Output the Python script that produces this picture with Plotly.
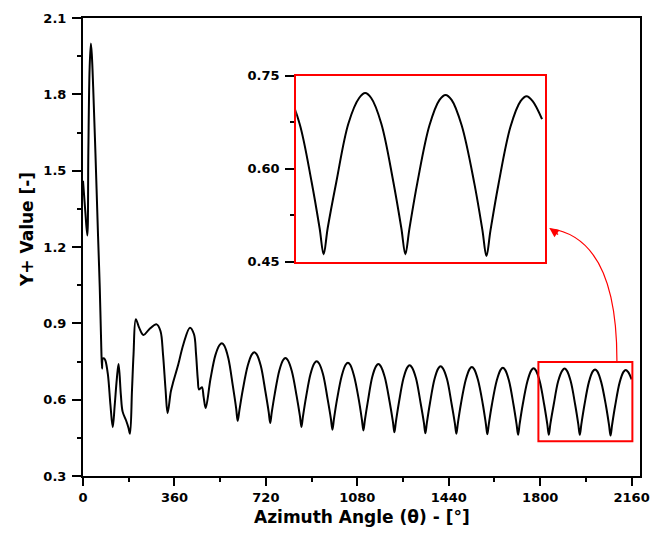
import plotly.graph_objects as go

# ---------------- data ----------------
angle_deg = [
    0, 9, 17, 21, 26, 31, 35, 40, 49, 59, 66, 72, 75, 78, 83, 88, 98, 108,
    117, 125, 133, 140, 149, 156, 169, 179, 185, 193, 199, 208, 221, 238, 260,
    290, 305, 315, 325, 333, 346, 356, 375, 395, 421, 437, 445, 452, 457, 468,
    475, 483, 502, 521, 537, 547,
    556, 572, 590, 603, 609, 616, 629, 649, 665, 675, 684, 700, 718, 731, 737,
    743, 755, 773, 788, 797, 806, 822, 841, 854, 860, 866, 878, 896, 911, 920,
    929, 945, 963, 976, 982, 988, 1000, 1019, 1034, 1043, 1052, 1067, 1086,
    1098, 1104, 1110, 1122, 1139, 1154, 1163, 1172, 1188, 1207, 1220, 1226,
    1232, 1244, 1262, 1277, 1286, 1295, 1311, 1329, 1342, 1348, 1354, 1366,
    1384, 1399, 1408, 1417, 1433, 1451, 1464, 1470, 1476, 1488, 1507, 1522,
    1531, 1540, 1555, 1574, 1586, 1592, 1598, 1610, 1629, 1644, 1653, 1662,
    1677, 1695, 1707, 1713, 1719, 1731, 1750, 1765, 1774, 1783, 1798, 1816,
    1828, 1834, 1840, 1853, 1871, 1887, 1896, 1905, 1920, 1938, 1950, 1956,
    1962, 1974, 1992, 2007, 2016, 2025, 2040, 2059, 2071, 2077, 2083, 2095,
    2113, 2128, 2137, 2146, 2160,
]
yplus = [
    1.46, 1.34, 1.245, 1.57, 1.90, 2.00, 1.95, 1.83, 1.567, 1.25, 1.04, 0.804,
    0.722, 0.762, 0.762, 0.754, 0.699, 0.58, 0.492, 0.58, 0.68, 0.74, 0.62,
    0.553, 0.52, 0.49, 0.466, 0.64, 0.778, 0.916, 0.883, 0.854, 0.876, 0.896,
    0.87, 0.778, 0.64, 0.547, 0.633, 0.672, 0.738, 0.817, 0.883, 0.857, 0.78,
    0.68, 0.640, 0.649, 0.61, 0.567, 0.682, 0.774, 0.814, 0.822,
    0.813, 0.764, 0.654, 0.566, 0.517, 0.560, 0.638, 0.735, 0.778, 0.786,
    0.778, 0.733, 0.633, 0.552, 0.508, 0.549, 0.623, 0.715, 0.756, 0.764,
    0.756, 0.713, 0.615, 0.536, 0.493, 0.534, 0.609, 0.702, 0.743, 0.751,
    0.743, 0.700, 0.603, 0.525, 0.482, 0.524, 0.600, 0.695, 0.737, 0.745,
    0.737, 0.694, 0.599, 0.522, 0.479, 0.521, 0.596, 0.690, 0.732, 0.740,
    0.732, 0.689, 0.593, 0.515, 0.472, 0.514, 0.590, 0.685, 0.727, 0.735,
    0.727, 0.684, 0.588, 0.511, 0.468, 0.510, 0.586, 0.681, 0.723, 0.731,
    0.723, 0.681, 0.585, 0.508, 0.466, 0.508, 0.584, 0.678, 0.720, 0.728,
    0.720, 0.678, 0.583, 0.506, 0.464, 0.506, 0.581, 0.675, 0.717, 0.725,
    0.717, 0.675, 0.580, 0.504, 0.462, 0.504, 0.579, 0.673, 0.715, 0.723,
    0.715, 0.673, 0.579, 0.504, 0.462, 0.504, 0.579, 0.673, 0.714, 0.722,
    0.714, 0.673, 0.579, 0.504, 0.462, 0.503, 0.578, 0.670, 0.711, 0.719,
    0.711, 0.670, 0.576, 0.501, 0.459, 0.500, 0.575, 0.668, 0.709, 0.717,
    0.709, 0.680,
]

x_tickvals = [0, 360, 720, 1080, 1440, 1800, 2160]
x_ticktext = ["0", "360", "720", "1080", "1440", "1800", "2160"]
x_minor = [180, 540, 900, 1260, 1620, 1980]
y_tickvals = [0.3, 0.6, 0.9, 1.2, 1.5, 1.8, 2.1]
y_ticktext = ["0.3", "0.6", "0.9", "1.2", "1.5", "1.8", "2.1"]
y_minor = [0.45, 0.75, 1.05, 1.35, 1.65, 1.95]

inset_x_range = [1793, 2164]
inset_y_tickvals = [0.45, 0.60, 0.75]
inset_y_ticktext = ["0.45", "0.60", "0.75"]
inset_y_minor = [0.525, 0.675]
zoom_box_x = [1793, 2163]
zoom_box_y = [0.437, 0.748]

x_title = "Azimuth Angle (θ) - [°]"
y_title = "Y+ Value [-]"

# ---------------- figure ----------------
FONT = "DejaVu Sans"
tickfont = dict(family=FONT, size=13, color="black", weight="bold")
titlefont = dict(family=FONT, size=17, color="black", weight="bold")

W, H = 660, 556
ML, MR, MT, MB = 83, 10, 18, 80
PW, PH = W - ML - MR, H - MT - MB


def px2paper(px, py):
    return (px - ML) / PW, (H - MB - py) / PH


fig = go.Figure()
line_style = dict(color="black", width=2, shape="spline", smoothing=1)
fig.add_trace(go.Scatter(x=angle_deg, y=yplus, mode="lines", line=line_style,
                         xaxis="x", yaxis="y", hoverinfo="skip"))
fig.add_trace(go.Scatter(x=angle_deg, y=yplus, mode="lines", line=line_style,
                         xaxis="x2", yaxis="y2", hoverinfo="skip"))

axis_common = dict(showgrid=False, zeroline=False, showline=True,
                   linewidth=2, mirror=True, ticks="outside",
                   tickcolor="black", tickwidth=2, tickfont=tickfont)

fig.update_layout(
    width=W, height=H,
    margin=dict(l=ML, r=MR, t=MT, b=MB),
    paper_bgcolor="white", plot_bgcolor="white",
    showlegend=False,
    xaxis=dict(range=[0, 2193], tickvals=x_tickvals, ticktext=x_ticktext,
               linecolor="black", ticklen=8, ticklabelstandoff=0,
               minor=dict(tickvals=x_minor, ticks="outside", ticklen=4,
                          tickwidth=2, tickcolor="black"),
               **axis_common),
    yaxis=dict(range=[0.3, 2.1], tickvals=y_tickvals, ticktext=y_ticktext,
               linecolor="black", ticklen=9, ticklabelstandoff=3,
               minor=dict(tickvals=y_minor, ticks="outside", ticklen=4,
                          tickwidth=2, tickcolor="black"),
               **axis_common),
    xaxis2=dict(domain=[(300 - ML) / PW, (553 - ML) / PW], anchor="y2",
                range=inset_x_range, showgrid=False, zeroline=False,
                showline=True, linecolor="red", linewidth=2, mirror=True,
                ticks="", showticklabels=False),
    yaxis2=dict(domain=[(H - MB - 261.7) / PH, (H - MB - 75.7) / PH],
                anchor="x2", range=[0.45, 0.75],
                tickvals=inset_y_tickvals, ticktext=inset_y_ticktext,
                linecolor="red", ticklen=9, ticklabelstandoff=3,
                minor=dict(tickvals=inset_y_minor, ticks="outside", ticklen=4,
                           tickwidth=2, tickcolor="black"),
                **axis_common),
)

# zoom box on main axes
fig.add_shape(type="rect", xref="x", yref="y",
              x0=zoom_box_x[0], x1=zoom_box_x[1],
              y0=zoom_box_y[0], y1=zoom_box_y[1],
              line=dict(color="red", width=2))

# curved connector
p0 = px2paper(626.5, 362)
p1 = px2paper(627, 238)
p2 = px2paper(558, 228.5)
fig.add_shape(type="path", xref="paper", yref="paper",
              path=f"M {p0[0]},{p0[1]} Q {p1[0]},{p1[1]} {p2[0]},{p2[1]}",
              line=dict(color="red", width=1.2))
fig.add_annotation(xref="paper", yref="paper", x=p2[0], y=p2[1],
                   ax=10, ay=7, axref="pixel", ayref="pixel", text="",
                   showarrow=True, arrowhead=2, arrowsize=1.5,
                   arrowwidth=1.2, arrowcolor="red", standoff=0)

# axis titles
tx, ty = px2paper(366.5, 517)
fig.add_annotation(xref="paper", yref="paper", x=tx, y=ty, text=x_title,
                   showarrow=False, xanchor="center", yanchor="middle",
                   font=titlefont)
tx, ty = px2paper(26, 230)
fig.add_annotation(xref="paper", yref="paper", x=tx, y=ty, text=y_title,
                   showarrow=False, xanchor="center", yanchor="middle",
                   textangle=-90, font=titlefont)

fig.write_html("out.html", config={"displayModeBar": False},
               post_script="document.body.style.margin='0px';")
